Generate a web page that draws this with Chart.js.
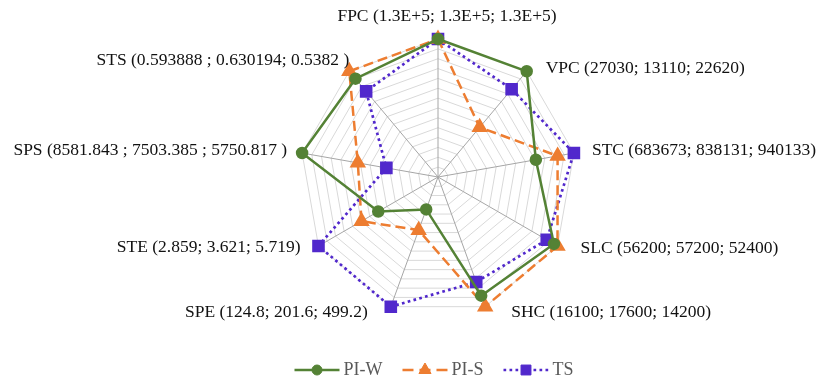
<!DOCTYPE html>
<html><head><meta charset="utf-8">
<script src="https://cdn.jsdelivr.net/npm/chart.js@4"></script>
<style>html,body{margin:0;padding:0;background:#fff;}canvas{display:block;}</style>
</head><body>
<canvas id="c" width="823" height="381"></canvas>
<script>
// ---- data (values normalised per axis) ----
const categories = ['FPC','VPC','STC','SLC','SHC','SPE','STE','SPS','STS'];
const axisLabels = [
  'FPC (1.3E+5; 1.3E+5; 1.3E+5)',
  'VPC (27030; 13110; 22620)',
  'STC (683673; 838131; 940133)',
  'SLC (56200; 57200; 52400)',
  'SHC (16100; 17600; 14200)',
  'SPE (124.8; 201.6; 499.2)',
  'STE (2.859; 3.621; 5.719)',
  'SPS (8581.843 ; 7503.385 ; 5750.817 )',
  'STS (0.593888 ; 0.630194; 0.5382 )'
];
const seriesNames = ['PI-W','PI-S','TS'];
const piW = [1.00, 1.00, 0.72, 0.97, 0.915, 0.25, 0.50, 1.00, 0.93];
const piS = [1.00, 0.47, 0.88, 1.00, 1.00, 0.41, 0.64, 0.59, 1.00];
const ts  = [1.00, 0.83, 1.00, 0.91, 0.81, 1.00, 1.00, 0.38, 0.81];
const gridSteps = 14;

// ---- plugins ----
const axisLabelPlugin = {
  id: 'axisLabels',
  afterDraw(chart, args, opts) {
    const s = chart.scales.r, ctx = chart.ctx;
    ctx.save();
    ctx.font = opts.font; ctx.fillStyle = opts.color; ctx.textBaseline = 'middle';
    opts.labels.forEach((t, i) => {
      const p = s.getPointPosition(i, s.drawingArea);
      const off = opts.offsets[i];
      ctx.textAlign = Math.abs(p.x - s.xCenter) < 1 ? 'center' : (p.x > s.xCenter ? 'left' : 'right');
      ctx.fillText(t, p.x + off[0], p.y + off[1]);
    });
    ctx.restore();
  }
};

function marker(ctx, style, x, y, r) {
  ctx.beginPath();
  if (style === 'circle') {
    ctx.arc(x, y, r, 0, Math.PI * 2);
  } else if (style === 'triangle') {
    let a = 0;
    ctx.moveTo(x + Math.sin(a) * r, y - Math.cos(a) * r); a += Math.PI * 2 / 3;
    ctx.lineTo(x + Math.sin(a) * r, y - Math.cos(a) * r); a += Math.PI * 2 / 3;
    ctx.lineTo(x + Math.sin(a) * r, y - Math.cos(a) * r);
    ctx.closePath();
  } else {
    const s = r * Math.SQRT1_2;
    ctx.rect(x - s, y - s, 2 * s, 2 * s);
  }
  ctx.fill(); ctx.stroke();
}

const lineLegendPlugin = {
  id: 'lineLegend',
  afterDraw(chart, args, opts) {
    const ctx = chart.ctx;
    ctx.save();
    ctx.font = opts.font;
    const items = chart.data.datasets.map(ds => ({ds, w: ctx.measureText(ds.label).width}));
    const total = items.reduce((a, it) => a + opts.sampleWidth + opts.textGap + it.w, 0) + opts.itemGap * (items.length - 1);
    let x = chart.scales.r.xCenter + opts.shift - total / 2;
    const y = opts.y;
    items.forEach(({ds, w}) => {
      ctx.save();
      ctx.strokeStyle = ds.borderColor; ctx.lineWidth = ds.borderWidth;
      ctx.setLineDash(opts.dashes[ds.label] || []);
      ctx.beginPath(); ctx.moveTo(x, y); ctx.lineTo(x + opts.sampleWidth, y); ctx.stroke();
      ctx.setLineDash([]);
      ctx.fillStyle = ds.pointBackgroundColor; ctx.strokeStyle = ds.pointBorderColor; ctx.lineWidth = 1;
      marker(ctx, ds.pointStyle, x + opts.sampleWidth / 2, y, ds.pointRadius);
      ctx.restore();
      ctx.fillStyle = opts.color; ctx.textAlign = 'left'; ctx.textBaseline = 'middle';
      ctx.fillText(ds.label, x + opts.sampleWidth + opts.textGap, y);
      x += opts.sampleWidth + opts.textGap + w + opts.itemGap;
    });
    ctx.restore();
  }
};

const GREEN = '#548235', ORANGE = '#ED7D31', BLUE = '#5128CC';

new Chart(document.getElementById('c'), {
  type: 'radar',
  data: {
    labels: categories,
    datasets: [
      { label: seriesNames[0], data: piW, borderColor: GREEN, backgroundColor: GREEN, borderWidth: 2.5,
        pointStyle: 'circle', pointRadius: 5, pointBackgroundColor: GREEN, pointBorderColor: GREEN, fill: false },
      { label: seriesNames[1], data: piS, borderColor: ORANGE, backgroundColor: ORANGE, borderWidth: 2.5, borderDash: [10, 5],
        pointStyle: 'triangle', pointRadius: 7, pointBackgroundColor: ORANGE, pointBorderColor: ORANGE, fill: false },
      { label: seriesNames[2], data: ts, borderColor: BLUE, backgroundColor: BLUE, borderWidth: 2.7, borderDash: [2.7, 3.3],
        pointStyle: 'rect', pointRadius: 7, pointBackgroundColor: BLUE, pointBorderColor: BLUE, fill: false }
    ]
  },
  options: {
    responsive: false,
    animation: false,
    layout: { padding: { left: 300, right: 247, top: 39, bottom: 66 } },
    elements: { line: { tension: 0 }, point: { borderWidth: 1 } },
    scales: {
      r: {
        min: 0, max: 1,
        ticks: { display: false, count: gridSteps + 1 },
        pointLabels: { display: false },
        grid: { color: '#d9d9d9', lineWidth: 1 },
        angleLines: { color: '#a6a6a6', lineWidth: 1 }
      }
    },
    plugins: {
      legend: { display: false },
      tooltip: { enabled: false },
      axisLabels: {
        labels: axisLabels,
        offsets: [[9,-23],[19,-3],[18,-3],[23,2],[26,6],[-23,6],[-18,1],[-15,-3],[0,-11]],
        font: '17.5px "Liberation Serif", "Times New Roman", serif',
        color: '#111111'
      },
      lineLegend: {
        y: 370, shift: -4, sampleWidth: 45, textGap: 4, itemGap: 20,
        font: '18px "Liberation Serif", "Times New Roman", serif',
        color: '#595959',
        dashes: { 'PI-W': [], 'PI-S': [11, 6], 'TS': [2.7, 3.3] }
      }
    }
  },
  plugins: [axisLabelPlugin, lineLegendPlugin]
});
</script>
</body></html>
